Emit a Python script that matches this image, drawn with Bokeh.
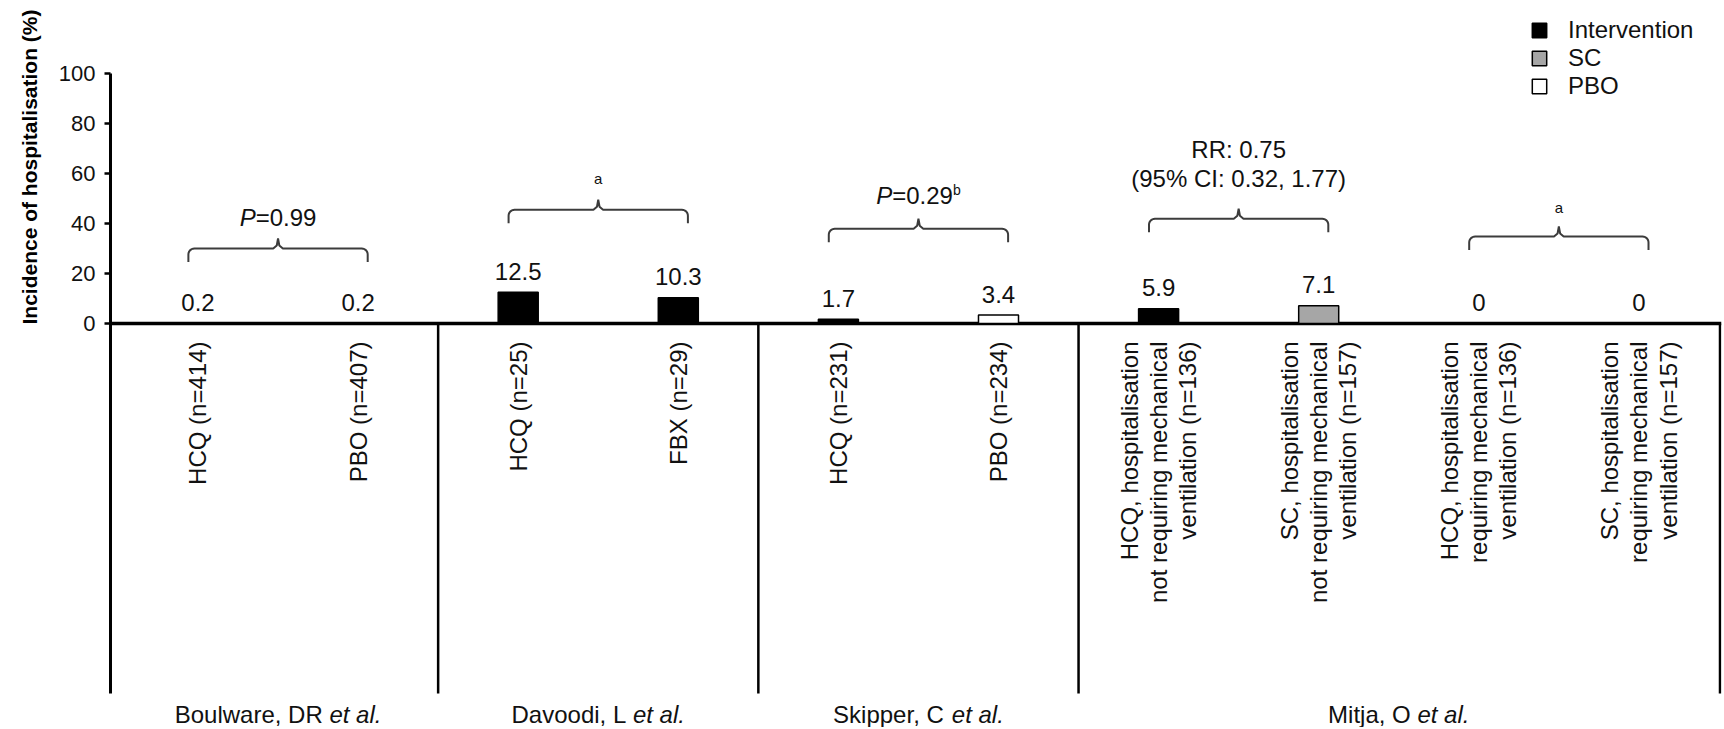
import numpy as np
from bokeh.plotting import figure
from bokeh.models import (Range1d, FixedTicker, ColumnDataSource,
                          Legend, LegendItem, Title)
from bokeh.core.properties import value
from bokeh.embed import file_html
from bokeh.resources import INLINE

# ---------------- data ----------------
categories = [
    "HCQ (n=414)", "PBO (n=407)",
    "HCQ (n=25)", "FBX (n=29)",
    "HCQ (n=231)", "PBO (n=234)",
    "HCQ, hospitalisation\nnot requiring mechanical\nventilation (n=136)",
    "SC, hospitalisation\nnot requiring mechanical\nventilation (n=157)",
    "HCQ, hospitalisation\nrequiring mechanical\nventilation (n=136)",
    "SC, hospitalisation\nrequiring mechanical\nventilation (n=157)",
]
incidence = [0.2, 0.2, 12.5, 10.3, 1.7, 3.4, 5.9, 7.1, 0, 0]
arm_type = ["Intervention", "PBO", "Intervention", "Intervention", "Intervention",
            "PBO", "Intervention", "SC", "Intervention", "SC"]
studies = ["Boulware, DR", "Davoodi, L", "Skipper, C", "Mitja, O"]
study_members = [[0, 1], [2, 3], [4, 5], [6, 7, 8, 9]]
comparison_pairs = [(0, 1), (2, 3), (4, 5), (6, 7), (8, 9)]
comparison_labels = ["P=0.99", "a", "P=0.29b", "RR: 0.75\n(95% CI: 0.32, 1.77)", "a"]
legend_labels = ["Intervention", "SC", "PBO"]
y_ticks = [0, 20, 40, 60, 80, 100]
y_title = "Incidence of hospitalisation (%)"

arm_colors = {"Intervention": "#000000", "SC": "#a6a6a6", "PBO": "#ffffff"}

# ---------------- figure ----------------
FONT = "Liberation Sans"
W, H = 1722, 727
LEFT = 108
XPX = 160.3   # px per category
YPX = 2.5     # px per %
MID = 0.35    # baseline -> middle shift (em)
x0 = (LEFT - 195.6) / XPX
x1 = x0 + (W - LEFT - 1) / XPX
y_top = 323 / YPX
y_bot = y_top - H / YPX

p = figure(width=W, height=H, output_backend="svg", toolbar_location=None,
           x_range=Range1d(x0, x1), y_range=Range1d(y_bot, y_top),
           x_axis_location=None, y_axis_location="left",
           min_border_left=LEFT, min_border_right=1, min_border_top=0,
           min_border_bottom=0)
p.outline_line_color = None
p.grid.visible = False
p.background_fill_color = "white"
p.border_fill_color = "white"

sep_bottom = -148
yax = p.yaxis[0]
yax.ticker = FixedTicker(ticks=y_ticks)
yax.bounds = (sep_bottom, 100)
yax.axis_line_width = 3
yax.axis_line_color = "black"
yax.major_tick_in = 0
yax.major_tick_out = 6
yax.major_tick_line_width = 2.5
yax.major_tick_line_color = "black"
yax.minor_tick_line_color = None
yax.major_label_text_font = FONT
yax.major_label_text_font_size = "22px"
yax.major_label_text_color = "#111111"
yax.major_label_standoff = 9
yax.axis_label = None

# y title as a side-panel title (top-aligned like the reference)
title_kw = dict(text=y_title, align="right", offset=9, vertical_align="bottom",
                text_font=FONT, text_font_size="21px", text_font_style="bold",
                text_color="black")
if "standoff" in Title.properties():
    title_kw["standoff"] = 30
p.add_layout(Title(**title_kw), "left")

xs = list(range(len(categories)))
src = ColumnDataSource(dict(
    x=xs, top=incidence, color=[arm_colors[a] for a in arm_type],
    cat=categories, lab=[f"{v:g}" for v in incidence]))

# baseline and separators
p.segment(x0=[x0], y0=[0], x1=[x1], y1=[0], line_color="black", line_width=3.5)
sep_x = [grp[-1] + 0.5 for grp in study_members[:-1]]
sep_x.append(x1 - 1.5 / XPX)
p.segment(x0=sep_x, y0=[0] * len(sep_x), x1=sep_x, y1=[sep_bottom] * len(sep_x),
          line_color="black", line_width=2.5)

bars = p.vbar(x="x", top="top", bottom=0, width=0.25, source=src,
              fill_color="color", line_color="black", line_width=1.5)

# value labels
p.text(x="x", y="top", text="lab", source=src, text_align="center",
       text_baseline="middle", y_offset=-12.5 - MID * 24, text_font=value(FONT),
       text_font_size="24px", text_color="#111111")

# category labels (rotated)
p.text(x="x", y=0, text="cat", source=src, angle=np.pi / 2, text_align="right",
       text_baseline="middle", y_offset=18, text_font=value(FONT),
       text_font_size="24px", text_line_height=1.08, text_color="#111111")

# ---------- helpers for composite text ----------
ARIAL = {" ": 278, "(": 333, ")": 333, "%": 889, ",": 278, ".": 278, ":": 278,
         "=": 584, "A": 667, "B": 667, "C": 722, "D": 722, "I": 278, "L": 556,
         "M": 833, "O": 778, "P": 667, "R": 722, "S": 667, "a": 556, "b": 556,
         "d": 556, "e": 556, "i": 222, "j": 222, "k": 500, "l": 222, "o": 556,
         "p": 556, "r": 333, "s": 500, "t": 278, "u": 556, "v": 500, "w": 722}


def tw(s, size):
    return sum(ARIAL.get(c, 556) for c in s) / 1000 * size


def rich(x, y, parts):
    """parts: list of (text, style, size, rise); y is the baseline (data)."""
    total = sum(tw(t, sz) for t, st, sz, r in parts)
    off = -total / 2
    for t, st, sz, r in parts:
        p.text(x=[x], y=[y], text=[t], x_offset=off, y_offset=-r - MID * sz,
               text_align="left", text_baseline="middle",
               text_font=value(FONT), text_font_size=f"{sz}px",
               text_font_style=st, text_color="#111111")
        off += tw(t, sz)


# study labels
for name, grp in zip(studies, study_members):
    cx = float(np.mean(grp))
    rich(cx, y_bot + 4.5 / YPX, [(name + " ", "normal", 24, 0), ("et al.", "italic", 24, 0)])

# ---------- braces ----------
brace_levels = [30.0, 45.5, 37.9, 41.9, 34.8]
label_gap = [9.2, 10.6, 10.0, 12.9, 9.7]
rx, ry = 6 / XPX, 6 / YPX
drop = 5.4
tip = 4.0
half = 0.56


def brace(xc, h):
    xl, xr = xc - half, xc + half
    t = np.linspace(np.pi, np.pi / 2, 8)
    bx = [xl] + list(xl + rx + rx * np.cos(t))
    by = [h - drop] + list(h - ry + ry * np.sin(t))
    bx += [xc - 0.03, xc - 0.008, xc, xc + 0.008, xc + 0.03]
    by += [h, h + 1.2, h + tip, h + 1.2, h]
    t2 = np.linspace(np.pi / 2, 0, 8)
    bx += list(xr - rx + rx * np.cos(t2)) + [xr]
    by += list(h - ry + ry * np.sin(t2)) + [h - drop]
    return bx, by


bxs, bys = [], []
for (a, b), h in zip(comparison_pairs, brace_levels):
    bx, by = brace((a + b) / 2, h)
    bxs.append(bx)
    bys.append(by)
p.multi_line(xs=bxs, ys=bys, line_color="#3c3c3c", line_width=2)

for (a, b), h, g, lab in zip(comparison_pairs, brace_levels, label_gap, comparison_labels):
    xc = (a + b) / 2
    y = h + g
    if lab == "a":
        p.text(x=[xc], y=[y], text=["a"], text_align="center",
               text_baseline="middle", y_offset=-MID * 15, text_font=value(FONT),
               text_font_size="15px", text_color="#111111")
    elif lab.startswith("P="):
        rest = lab[1:]
        sup = ""
        if rest.endswith("b"):
            rest, sup = rest[:-1], "b"
        parts = [("P", "italic", 24, 0), (rest, "normal", 24, 0)]
        if sup:
            parts.append((sup, "normal", 14, 9))
        rich(xc, y, parts)
    else:
        lines = lab.split("\n")
        for k, ln in enumerate(reversed(lines)):
            p.text(x=[xc], y=[y], text=[ln], y_offset=-29 * k - MID * 24,
                   text_align="center", text_baseline="middle",
                   text_font=value(FONT), text_font_size="24px",
                   text_color="#111111")

# ---------- legend ----------
first_idx = [arm_type.index(l) for l in legend_labels]
legend = Legend(items=[LegendItem(label=l, renderers=[bars], index=i)
                       for l, i in zip(legend_labels, first_idx)],
                location=(1420, 627), orientation="vertical",
                glyph_width=18, glyph_height=18, label_standoff=20,
                spacing=0, padding=0, margin=0, border_line_color=None,
                background_fill_alpha=0, label_text_font=FONT,
                label_text_font_size="24px", label_text_color="#111111")
p.add_layout(legend)

open("out.html", "w").write(file_html(p, INLINE))
